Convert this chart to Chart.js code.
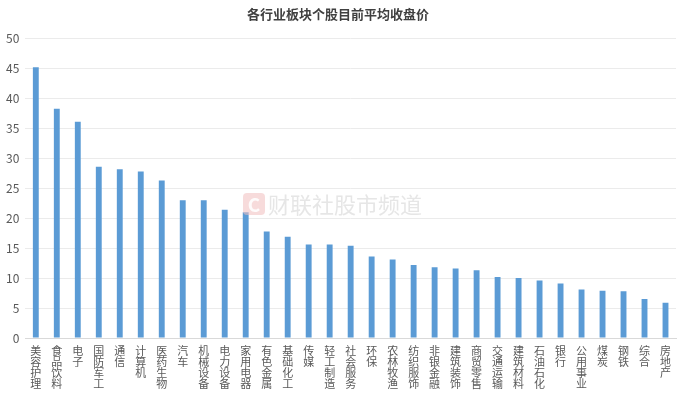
<!DOCTYPE html>
<html lang="zh">
<head>
<meta charset="UTF-8">
<title>各行业板块个股目前平均收盘价</title>
<script src="https://cdn.jsdelivr.net/npm/chart.js@4.4.3/dist/chart.umd.min.js"></script>
<style>
  html, body { margin: 0; padding: 0; background: #fff; }
  #wrap { width: 692px; height: 396px; position: relative; }
</style>
</head>
<body>
<div id="wrap"><canvas id="chart"></canvas></div>
<script>
const industries = ['美容护理', '食品饮料', '电子', '国防军工', '通信', '计算机', '医药生物', '汽车', '机械设备', '电力设备',
  '家用电器', '有色金属', '基础化工', '传媒', '轻工制造', '社会服务', '环保', '农林牧渔', '纺织服饰', '非银金融',
  '建筑装饰', '商贸零售', '交通运输', '建筑材料', '石油石化', '银行', '公用事业', '煤炭', '钢铁', '综合', '房地产'];
const avgPrice = [45.2, 38.3, 36.1, 28.6, 28.2, 27.8, 26.3, 23.0, 23.0, 21.4,
  21.0, 17.8, 16.9, 15.6, 15.6, 15.4, 13.6, 13.1, 12.2, 11.8,
  11.6, 11.3, 10.2, 10.0, 9.6, 9.1, 8.1, 7.9, 7.8, 6.5, 5.9];
const yTicks = [0, 5, 10, 15, 20, 25, 30, 35, 40, 45, 50];

const font = '"Noto Sans CJK SC", "Noto Sans", sans-serif';

// faint watermark in the middle of the plot
const watermark = {
  id: 'watermark',
  afterDatasetsDraw(chart) {
    const c = chart.ctx;
    c.save();
    c.fillStyle = 'rgba(240, 190, 190, 0.55)';
    const x = 243, y = 193, s = 22, r = 4;
    c.beginPath();
    c.moveTo(x + r, y);
    c.arcTo(x + s, y, x + s, y + s, r);
    c.arcTo(x + s, y + s, x, y + s, r);
    c.arcTo(x, y + s, x, y, r);
    c.arcTo(x, y, x + s, y, r);
    c.fill();
    c.fillStyle = 'rgba(255,255,255,0.9)';
    c.font = 'bold 19px ' + font;
    c.textAlign = 'center';
    c.textBaseline = 'middle';
    c.fillText('C', x + s / 2, y + s / 2 + 1);
    c.fillStyle = 'rgba(200, 200, 200, 0.45)';
    c.font = '22px ' + font;
    c.textAlign = 'left';
    c.fillText('财联社股市频道', 268, 205);
    c.restore();
  }
};

new Chart(document.getElementById('chart'), {
  type: 'bar',
  data: {
    labels: industries.map(s => s.split('')),
    datasets: [{
      label: '平均收盘价',
      data: avgPrice,
      backgroundColor: '#5B9BD5',
      barPercentage: 0.28,
      categoryPercentage: 1.0
    }]
  },
  options: {
    responsive: true,
    maintainAspectRatio: false,
    animation: false,
    layout: { padding: { left: 0, right: 16, top: 4, bottom: 0 } },
    plugins: {
      legend: { display: false },
      tooltip: { enabled: false },
      title: {
        display: true,
        text: '各行业板块个股目前平均收盘价',
        color: '#404040',
        font: { family: font, size: 13, weight: 'bold' },
        padding: { top: 2, bottom: 17 }
      }
    },
    scales: {
      x: {
        grid: { display: false, drawTicks: false },
        border: { display: true, color: '#D9D9D9' },
        ticks: {
          color: '#595959',
          font: { family: font, size: 11, lineHeight: 1.0 },
          maxRotation: 0,
          minRotation: 0,
          autoSkip: false,
          padding: 7
        }
      },
      y: {
        min: 0,
        max: 50,
        afterBuildTicks(axis) { axis.ticks = yTicks.map(v => ({ value: v })); },
        grid: { color: '#EBEBEB', drawTicks: false },
        border: { display: false },
        ticks: {
          color: '#595959',
          font: { family: font, size: 12 },
          padding: 6
        }
      }
    }
  },
  plugins: [watermark]
});
</script>
</body>
</html>
